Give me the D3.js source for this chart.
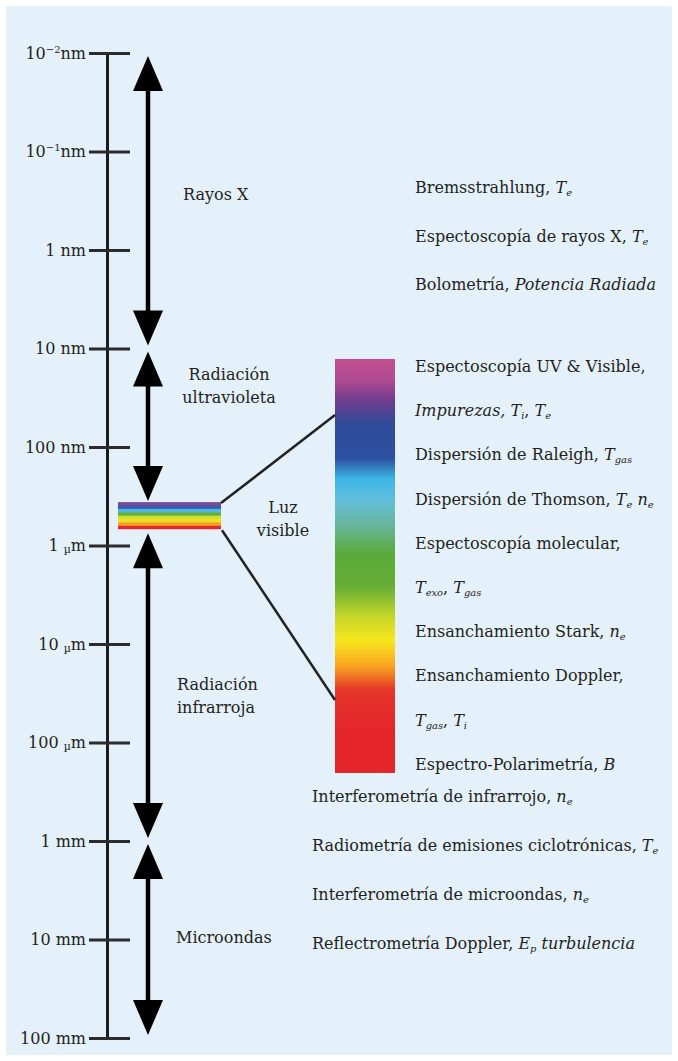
<!DOCTYPE html>
<html>
<head>
<meta charset="utf-8">
<script src="https://d3js.org/d3.v7.min.js"></script>
<style>
  body { margin: 0; background: #fff; }
  text { fill: #231f20; }
</style>
</head>
<body>
<div id="chart"></div>
<script>
// wavelength ticks (in nm) and their labels
const tickValues = [1e-2, 1e-1, 1, 10, 100, 1e3, 1e4, 1e5, 1e6, 1e7, 1e8];
const tickLabels = ["10^−2nm", "10^−1nm", "1 nm", "10 nm", "100 nm", "1 µm", "10 µm", "100 µm", "1 mm", "10 mm", "100 mm"];

// spectral bands (nm)
const bandNames = ["Rayos X", "Radiación|ultravioleta", "Luz|visible", "Radiación|infrarroja", "Microondas"];
const bandFrom = [1e-2, 10, 380, 700, 1e6];
const bandTo = [10, 380, 700, 1e6, 1e8];

// diagnostics, {i:..} italic, {s:..} subscript
const xrayDiagnostics = [
  "Bremsstrahlung, {i:T}{s:e}",
  "Espectoscopía de rayos X, {i:T}{s:e}",
  "Bolometría, {i:Potencia Radiada}"
];
const visibleDiagnostics = [
  "Espectoscopía UV & Visible,",
  "{i:Impurezas, T}{s:i}, {i:T}{s:e}",
  "Dispersión de Raleigh, {i:T}{s:gas}",
  "Dispersión de Thomson, {i:T}{s:e} {i:n}{s:e}",
  "Espectoscopía molecular,",
  "{i:T}{s:exo}, {i:T}{s:gas}",
  "Ensanchamiento Stark, {i:n}{s:e}",
  "Ensanchamiento Doppler,",
  "{i:T}{s:gas}, {i:T}{s:i}",
  "Espectro-Polarimetría, {i:B}"
];
const longDiagnostics = [
  "Interferometría de infrarrojo, {i:n}{s:e}",
  "Radiometría de emisiones ciclotrónicas, {i:T}{s:e}",
  "Interferometría de microondas, {i:n}{s:e}",
  "Reflectrometría Doppler, {i:E}{s:p} {i:turbulencia}"
];

// colours of the visible spectrum, top (violet) to bottom (red)
const spectrumColors = ["#c2508f", "#b04b91", "#6f3d8d", "#2f4a9a", "#2d52a2", "#3cb6e6", "#62bfdc", "#69b59e", "#5aab3c", "#66ae35", "#c4d62a", "#f7e61c", "#f8a620", "#e5352a", "#e4262b", "#e4262b"];
const spectrumOffsets = [0, 0.05, 0.1, 0.16, 0.24, 0.29, 0.34, 0.4, 0.47, 0.55, 0.62, 0.68, 0.74, 0.8, 0.9, 1];
const stripeColors = ["#7c4a9c", "#3d5aa9", "#4cb6e2", "#5fae47", "#cfe02c", "#f2dc2a", "#f4a123", "#e3292b"];

const W = 678, H = 1061;
const font = "'DejaVu Serif', serif";

const svg = d3.select("#chart").append("svg")
    .attr("width", W).attr("height", H)
    .attr("font-family", font).attr("font-size", 16);

svg.append("rect").attr("width", W).attr("height", H).attr("fill", "#fff");
svg.append("rect").attr("x", 6).attr("y", 6).attr("width", 666).attr("height", 1049).attr("fill", "#e5f1fa");

var y = d3.scaleLog().domain([1e-2, 1e8]).range([53, 1038]);
var axisX = 107, arrowX = 148;

// rich text helper
function rich(sel, str, size) {
    var parts = str.match(/\{[is]:[^}]*\}|[^{]+/g);
    var shift = 0;
    parts.forEach(function (p) {
        var t = sel.append("tspan");
        var want = 0;
        if (p.startsWith("{i:")) {
            t.attr("font-style", "italic").text(p.slice(3, -1));
        } else if (p.startsWith("{s:")) {
            t.attr("font-style", "italic").attr("font-size", size * 0.62).text(p.slice(3, -1));
            want = 3;
        } else {
            t.text(p);
        }
        if (want !== shift) t.attr("dy", want - shift);
        shift = want;
    });
}

// axis
var axis = d3.axisLeft(y).tickValues(tickValues).tickSize(18).tickSizeOuter(0).tickPadding(3)
    .tickFormat(function (d, i) { return ""; });
var gAxis = svg.append("g").attr("transform", "translate(" + axisX + ",0)").call(axis)
    .attr("font-family", font).attr("font-size", 16);
gAxis.select(".domain").attr("stroke", "#1c1c1c").attr("stroke-width", 3);
gAxis.selectAll(".tick line").attr("x1", 23).attr("stroke", "#2b2b2b").attr("stroke-width", 3);
gAxis.selectAll(".tick text").attr("fill", "#231f20").each(function (d, i) {
    var t = d3.select(this);
    var lab = tickLabels[i];
    if (lab.indexOf("^") >= 0) {
        var a = lab.split("^");
        t.append("tspan").text(a[0]);
        t.append("tspan").attr("font-size", 10).attr("dy", -6).text(a[1].slice(0, 2));
        t.append("tspan").attr("dy", 6).text(a[1].slice(2));
    } else if (lab.indexOf("µ") >= 0) {
        var b = lab.split("µ");
        t.append("tspan").text(b[0]);
        t.append("tspan").attr("font-size", 11).attr("dy", 2).text("µ");
        t.append("tspan").attr("dy", -2).text(b[1]);
    } else {
        t.text(lab);
    }
});

// band arrows
var headL = 35, headW = 15, gap = 3;
var bands = bandNames.map(function (n, i) { return { name: n, from: bandFrom[i], to: bandTo[i] }; });
var arrows = svg.append("g");
bands.filter(function (d) { return d.name !== "Luz|visible"; }).forEach(function (d) {
    var y0 = y(d.from) + gap, y1 = y(d.to) - gap;
    arrows.append("line").attr("x1", arrowX).attr("x2", arrowX)
        .attr("y1", y0 + headL - 2).attr("y2", y1 - headL + 2)
        .attr("stroke", "#000").attr("stroke-width", 4.5);
    arrows.append("path").attr("fill", "#000")
        .attr("d", "M" + arrowX + "," + y0 + "L" + (arrowX + headW) + "," + (y0 + headL) + "L" + (arrowX - headW) + "," + (y0 + headL) + "Z");
    arrows.append("path").attr("fill", "#000")
        .attr("d", "M" + arrowX + "," + y1 + "L" + (arrowX + headW) + "," + (y1 - headL) + "L" + (arrowX - headW) + "," + (y1 - headL) + "Z");
});

// band labels
var labelPos = {
    "Rayos X": { x: 183, y: 200, anchor: "start" },
    "Radiación|ultravioleta": { x: 229, y: 380, anchor: "middle" },
    "Luz|visible": { x: 283, y: 513, anchor: "middle" },
    "Radiación|infrarroja": { x: 177, y: 690, anchor: "start" },
    "Microondas": { x: 176, y: 943, anchor: "start" }
};
bands.forEach(function (d) {
    var p = labelPos[d.name];
    var t = svg.append("text").attr("x", p.x).attr("y", p.y).attr("text-anchor", p.anchor);
    d.name.split("|").forEach(function (line, k) {
        t.append("tspan").attr("x", p.x).attr("dy", k ? 23 : 0).text(line);
    });
});

// small visible stripe on the axis
var vis = bands[2];
var stripeX = 118, stripeW = 103;
var sy = d3.scaleBand().domain(d3.range(stripeColors.length)).range([y(vis.from) - 2, y(vis.to) - 1]);
svg.append("g").selectAll("rect").data(stripeColors).join("rect")
    .attr("x", stripeX).attr("width", stripeW)
    .attr("y", function (d, i) { return sy(i); })
    .attr("height", function (d, i) { return sy.bandwidth() + (i === stripeColors.length - 1 ? 0 : 0.5); })
    .attr("fill", function (d) { return d; });

// big spectrum bar
var defs = svg.append("defs");
var grad = defs.append("linearGradient").attr("id", "spec").attr("x1", 0).attr("x2", 0).attr("y1", 0).attr("y2", 1);
grad.selectAll("stop").data(spectrumColors).join("stop")
    .attr("offset", function (d, i) { return spectrumOffsets[i]; })
    .attr("stop-color", function (d) { return d; });
var barX = 335, barW = 60, barTop = 359, barBot = 773;
svg.append("rect").attr("x", barX).attr("y", barTop).attr("width", barW).attr("height", barBot - barTop).attr("fill", "url(#spec)");

// zoom connectors
svg.append("line").attr("x1", stripeX + stripeW).attr("y1", sy(0) + 1).attr("x2", barX).attr("y2", 415)
    .attr("stroke", "#222").attr("stroke-width", 2.5);
svg.append("line").attr("x1", stripeX + stripeW + 1).attr("y1", y(vis.to)).attr("x2", barX).attr("y2", 700)
    .attr("stroke", "#222").attr("stroke-width", 2.5);

// diagnostic lists
function list(lines, x, y0, step) {
    lines.forEach(function (s, i) {
        var t = svg.append("text").attr("x", x).attr("y", y0 + i * step);
        rich(t, s, 16);
    });
}
list(xrayDiagnostics, 415, 193, 48.5);
list(visibleDiagnostics, 415, 372, 44.2);
list(longDiagnostics, 312, 802, 49);
</script>
</body>
</html>
